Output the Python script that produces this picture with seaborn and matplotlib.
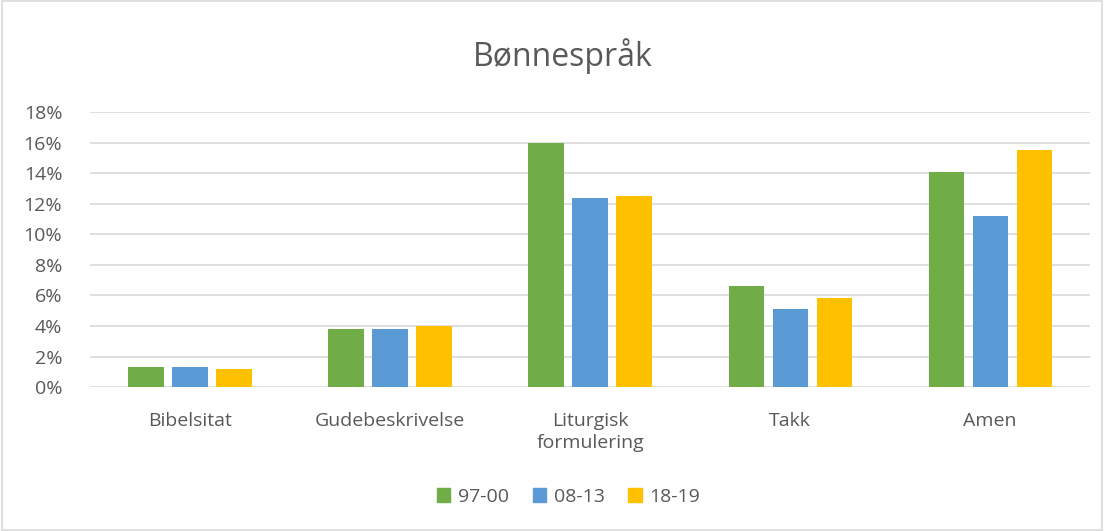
import numpy as np
import pandas as pd
import seaborn as sns
import matplotlib.pyplot as plt
from matplotlib.patches import Rectangle
from matplotlib.ticker import FuncFormatter

categories = ["Bibelsitat", "Gudebeskrivelse", "Liturgisk\nformulering", "Takk", "Amen"]
periods = ["97-00", "08-13", "18-19"]
v_97_00 = [1.3, 3.8, 16.0, 6.6, 14.1]
v_08_13 = [1.3, 3.8, 12.4, 5.1, 11.2]
v_18_19 = [1.2, 4.0, 12.5, 5.8, 15.5]
colors = ["#70AD47", "#5B9BD5", "#FFC000"]

rows = []
for period, vals in zip(periods, [v_97_00, v_08_13, v_18_19]):
    for cat, v in zip(categories, vals):
        rows.append({"kategori": cat, "periode": period, "andel": v})
df = pd.DataFrame(rows)

sns.set_style("white")
plt.rcParams['font.family'] = ['Open Sans', 'DejaVu Sans']
text_col = "#595959"

fig = plt.figure(figsize=(11.04, 5.31), dpi=100)
ax = fig.add_axes([0.0815, 0.271, 0.906, 0.518])

sns.barplot(data=df, x="kategori", y="andel", hue="periode", order=categories,
            hue_order=periods, palette=colors, width=0.66, gap=0.2,
            saturation=1, linewidth=0, ax=ax, legend=False)

ax.set_ylim(0, 18)
ax.set_xlim(-0.5, 4.5)
ax.set_yticks(np.arange(0, 19, 2))
ax.yaxis.set_major_formatter(FuncFormatter(lambda v, p: f"{v:.0f}%"))
ax.yaxis.grid(True, color="#D9D9D9", linewidth=1.2)
ax.set_axisbelow(True)
for s in ax.spines.values():
    s.set_visible(False)
ax.tick_params(axis="both", length=0, labelsize=14, colors=text_col)
ax.tick_params(axis="x", pad=18)
ax.tick_params(axis="y", pad=20)
for lbl in ax.get_xticklabels():
    lbl.set_linespacing(1.3)
ax.set_xlabel("")
ax.set_ylabel("")

fig.text(0.51, 0.895, "Bønnespråk", ha="center", va="center", fontsize=23, color=text_col)

handles = [Rectangle((0, 0), 1, 1, color=c) for c in colors]
fig.legend(handles, periods, loc="center", bbox_to_anchor=(0.515, 0.064), ncol=3,
           frameon=False, fontsize=14, labelcolor=text_col, handlelength=0.7,
           handleheight=0.7, handletextpad=0.4, columnspacing=1.2)

fig.patches.append(Rectangle((0.002, 0.002), 0.996, 0.996, transform=fig.transFigure,
                             fill=False, edgecolor="#D9D9D9", linewidth=1.2))

fig.savefig("out.png", dpi=100, facecolor="white")
